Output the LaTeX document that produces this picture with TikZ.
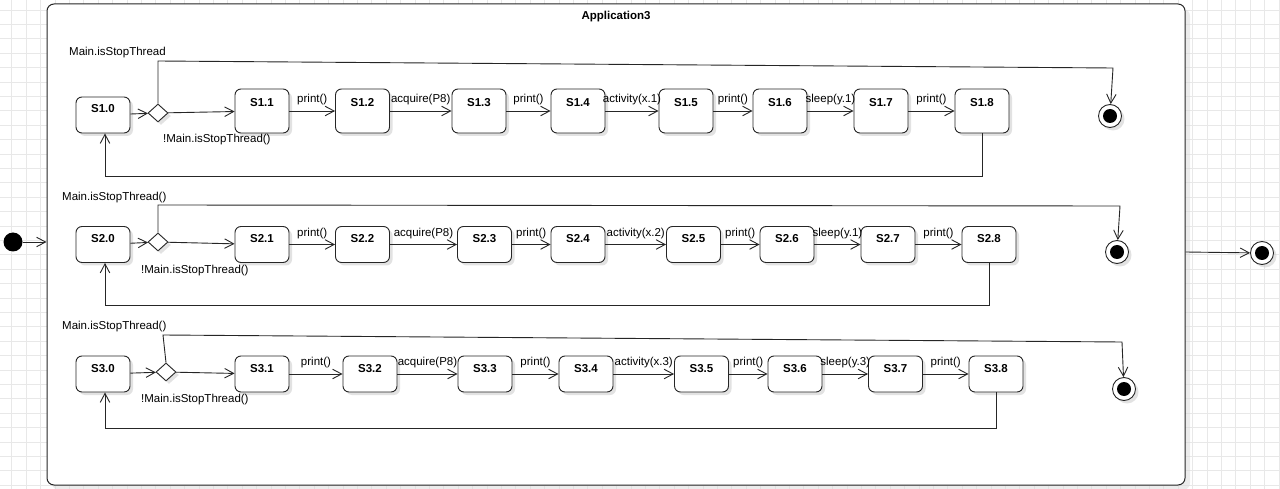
\documentclass[tikz,border=0pt]{standalone}
\usepackage{fontspec}
\setmainfont{Liberation Sans}
\usetikzlibrary{arrows.meta,shapes.geometric,shadows}
\begin{document}
\begin{tikzpicture}[x=1pt,y=-1pt,
  font=\fontsize{11.5pt}{13pt}\selectfont,
  shade/.style={drop shadow={shadow xshift=3pt,shadow yshift=-3pt,fill=black!22,opacity=0.5}},
  st/.style={draw=black!85,line width=0.9pt,rounded corners=6pt,fill=white,shade,
    minimum width=54pt,inner sep=0pt,font=\fontsize{11.5pt}{13pt}\selectfont\bfseries},
  tall/.style={minimum height=44pt,text height=18pt,text depth=26pt},
  short/.style={minimum height=36pt,text height=16pt,text depth=20pt},
  choice/.style={diamond,draw=black!85,line width=0.9pt,fill=white,shade,inner sep=0pt,
    minimum width=20pt,minimum height=18pt},
  final/.style={circle,draw=black!85,line width=0.9pt,fill=white,shade,minimum size=23pt,inner sep=0pt,
    path picture={\fill[black] (path picture bounding box.center) circle (7pt);}},
  tr/.style={draw=black!85,line width=0.9pt,-{Straight Barb[length=9pt,width=9.5pt]}},
  lbl/.style={inner sep=0pt,yshift=11pt},
  guard/.style={inner sep=0pt,anchor=west}]
\useasboundingbox (0,0) rectangle (1280,489);
% background grid
\foreach \i in {0,...,88} \draw[black!9,line width=0.8pt] ({11.7+14.4*\i},0) -- ({11.7+14.4*\i},489);
\foreach \j in {0,...,33} \draw[black!9,line width=0.8pt] (0,{10+14.4*\j}) -- (1280,{10+14.4*\j});

% enclosing state
\node[draw=black!85,line width=1pt,rounded corners=7pt,fill=white,
  drop shadow={shadow xshift=5pt,shadow yshift=-5pt,fill=black!15,opacity=0.5},
  minimum width=1138pt,minimum height=481pt,inner sep=0pt] (app) at (616,244.5) {};
\node[font=\fontsize{11.5pt}{13pt}\selectfont\bfseries,inner sep=0pt] (title) at (616,17) {Application3};

% outer initial and final states
\node[circle,fill=black,minimum size=19pt,inner sep=0pt] (init) at (13,242) {};
\node[final] (fo) at (1262,253) {};
\draw[tr] (init) -- (app.west |- init);
\draw[tr] (app.east |- 0,252) -- (fo);

% ---------------- row 1 ----------------
\node[st,short] (S10) at (103,115) {S1.0};
\node[choice] (d1) at (158,113) {};
\node[st,tall] (S11) at (262,111) {S1.1};
\node[st,tall] (S12) at (362.5,111) {S1.2};
\node[st,tall] (S13) at (479,111) {S1.3};
\node[st,tall] (S14) at (578,111) {S1.4};
\node[st,tall] (S15) at (686,111) {S1.5};
\node[st,tall] (S16) at (780,111) {S1.6};
\node[st,tall] (S17) at (881,111) {S1.7};
\node[st,tall] (S18) at (982,111) {S1.8};
\node[final] (f1) at (1110,116) {};
\coordinate (t1a) at (158,61);
\coordinate (t1b) at (1113,68);
\coordinate (r1) at (105,176);

\draw[tr] (S10) -- (d1);
\draw[tr] (d1) -- (S11);
\draw[tr] (d1.north) -- (t1a) -- (t1b) -- (f1);
\node[guard] (g1a) at (69,52.5) {Main.isStopThread};
\node[guard] (g1b) at (163,139.5) {!Main.isStopThread()};
\draw[tr] (S11) -- node[lbl] {print()} (S12);
\draw[tr] (S12) -- node[lbl] {acquire(P8)} (S13);
\draw[tr] (S13) -- node[lbl] {print()} (S14);
\draw[tr] (S14) -- node[lbl] {activity(x.1)} (S15);
\draw[tr] (S15) -- node[lbl] {print()} (S16);
\draw[tr] (S16) -- node[lbl] {sleep(y.1)} (S17);
\draw[tr] (S17) -- node[lbl] {print()} (S18);
\draw[tr] (S18.south) -- (S18.south |- r1) -- (r1) -- (S10.south -| r1);

% ---------------- row 2 ----------------
\node[st,short] (S20) at (103,244.5) {S2.0};
\node[choice] (d2) at (158,242) {};
\node[st,short] (S21) at (262,244.5) {S2.1};
\node[st,short] (S22) at (362.5,244.5) {S2.2};
\node[st,short] (S23) at (484.5,244.5) {S2.3};
\node[st,short] (S24) at (578,244.5) {S2.4};
\node[st,short] (S25) at (693.5,244.5) {S2.5};
\node[st,short] (S26) at (787,244.5) {S2.6};
\node[st,short] (S27) at (888,244.5) {S2.7};
\node[st,short] (S28) at (989,244.5) {S2.8};
\node[final] (f2) at (1117,252) {};
\coordinate (t2a) at (158,205);
\coordinate (t2b) at (1120,206);
\coordinate (r2) at (105,305);

\draw[tr] (S20) -- (d2);
\draw[tr] (d2) -- (S21);
\draw[tr] (d2.north) -- (t2a) -- (t2b) -- (f2);
\node[guard] (g2a) at (62,197.5) {Main.isStopThread()};
\node[guard] (g2b) at (141,270.5) {!Main.isStopThread()};
\draw[tr] (S21) -- node[lbl] {print()} (S22);
\draw[tr] (S22) -- node[lbl] {acquire(P8)} (S23);
\draw[tr] (S23) -- node[lbl] {print()} (S24);
\draw[tr] (S24) -- node[lbl] {activity(x.2)} (S25);
\draw[tr] (S25) -- node[lbl] {print()} (S26);
\draw[tr] (S26) -- node[lbl] {sleep(y.1)} (S27);
\draw[tr] (S27) -- node[lbl] {print()} (S28);
\draw[tr] (S28.south) -- (S28.south |- r2) -- (r2) -- (S20.south -| r2);

% ---------------- row 3 ----------------
\node[st,short] (S30) at (103,374) {S3.0};
\node[choice] (d3) at (166,372) {};
\node[st,short] (S31) at (262,374) {S3.1};
\node[st,short] (S32) at (370,374) {S3.2};
\node[st,short] (S33) at (485,374) {S3.3};
\node[st,short] (S34) at (586,374) {S3.4};
\node[st,short] (S35) at (701.5,374) {S3.5};
\node[st,short] (S36) at (795,374) {S3.6};
\node[st,short] (S37) at (895.5,374) {S3.7};
\node[st,short] (S38) at (996,374) {S3.8};
\node[final] (f3) at (1124,389) {};
\coordinate (t3a) at (163,335);
\coordinate (t3b) at (1122,342);
\coordinate (r3) at (105,428);

\draw[tr] (S30) -- (d3);
\draw[tr] (d3) -- (S31);
\draw[tr] (d3.north) -- (t3a) -- (t3b) -- (f3);
\node[guard] (g3a) at (62,326.5) {Main.isStopThread()};
\node[guard] (g3b) at (141,399.5) {!Main.isStopThread()};
\draw[tr] (S31) -- node[lbl] {print()} (S32);
\draw[tr] (S32) -- node[lbl] {acquire(P8)} (S33);
\draw[tr] (S33) -- node[lbl] {print()} (S34);
\draw[tr] (S34) -- node[lbl] {activity(x.3)} (S35);
\draw[tr] (S35) -- node[lbl] {print()} (S36);
\draw[tr] (S36) -- node[lbl] {sleep(y.3)} (S37);
\draw[tr] (S37) -- node[lbl] {print()} (S38);
\draw[tr] (S38.south) -- (S38.south |- r3) -- (r3) -- (S30.south -| r3);
\end{tikzpicture}
\end{document}
